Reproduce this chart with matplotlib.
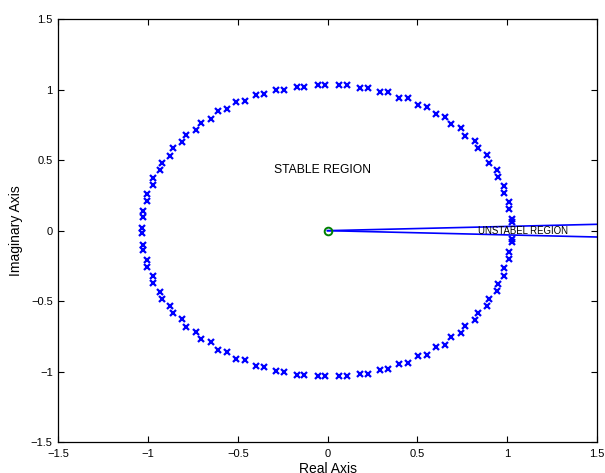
import matplotlib
matplotlib.use("Agg")
import matplotlib.pyplot as plt

# pole locations (upper half, going left from the top, then right side)
upper_re = [-0.012, -0.051, -0.129, -0.172, -0.242, -0.287, -0.352, -0.400, -0.458, -0.508,
            -0.560, -0.608, -0.651, -0.703, -0.735, -0.787, -0.809, -0.861, -0.876, -0.922,
            -0.931, -0.972, -0.974, -1.004, -1.008, -1.026, -1.026, -1.032,
            0.066, 0.107, 0.181, 0.224, 0.294, 0.339, 0.400, 0.450, 0.504, 0.554,
            0.603, 0.653, 0.690, 0.744, 0.768, 0.822, 0.840, 0.889, 0.900, 0.944,
            0.948, 0.982, 0.985, 1.011, 1.013, 1.026, 1.026]
upper_im = [1.032, 1.032, 1.020, 1.020, 0.999, 0.997, 0.966, 0.961, 0.917, 0.909,
            0.860, 0.846, 0.791, 0.765, 0.713, 0.678, 0.628, 0.586, 0.531, 0.482,
            0.428, 0.371, 0.321, 0.260, 0.210, 0.139, 0.094, 0.016,
            1.032, 1.032, 1.013, 1.011, 0.985, 0.983, 0.942, 0.938, 0.891, 0.879,
            0.827, 0.808, 0.756, 0.730, 0.673, 0.635, 0.583, 0.534, 0.482, 0.428,
            0.378, 0.316, 0.269, 0.201, 0.153, 0.083, 0.060]

lower_re = [-1.032, -1.026, -1.026, -1.008, -1.008, -0.974, -0.970, -0.931, -0.922, -0.876,
            -0.861, -0.809, -0.787, -0.735, -0.703, -0.651, -0.608, -0.560, -0.508, -0.458,
            -0.400, -0.352, -0.287, -0.242, -0.168, -0.129, -0.051, -0.012,
            1.026, 1.026, 1.013, 1.013, 0.985, 0.982, 0.948, 0.944, 0.900, 0.889,
            0.840, 0.822, 0.768, 0.744, 0.690, 0.653, 0.603, 0.554, 0.504, 0.450,
            0.400, 0.339, 0.294, 0.224, 0.181, 0.107, 0.066]
lower_im = [-0.016, -0.099, -0.139, -0.210, -0.258, -0.324, -0.373, -0.432, -0.482, -0.534,
            -0.586, -0.628, -0.683, -0.716, -0.768, -0.791, -0.846, -0.860, -0.910, -0.919,
            -0.961, -0.966, -0.997, -1.002, -1.023, -1.025, -1.032, -1.032,
            -0.059, -0.083, -0.154, -0.201, -0.267, -0.319, -0.378, -0.430, -0.482, -0.534,
            -0.584, -0.636, -0.676, -0.728, -0.756, -0.808, -0.827, -0.879, -0.891, -0.936,
            -0.943, -0.980, -0.985, -1.013, -1.013, -1.032, -1.032]

# boundary lines of the unstable wedge
wedge_re = [0.0, 1.5]
wedge_hi = [0.0, 0.045]
wedge_lo = [0.0, -0.045]

plt.rcParams['font.family'] = ['Liberation Sans', 'DejaVu Sans']

fig = plt.figure(figsize=(6.05, 4.73), dpi=100)
ax = fig.add_axes([0.0964, 0.0649, 0.8899, 0.8949])

ax.plot(upper_re, upper_im, 'x', color='blue', ms=4.2, mew=1.6)
ax.plot(lower_re, lower_im, 'x', color='blue', ms=4.2, mew=1.6)
ax.plot(wedge_re, wedge_hi, '-', color='blue', lw=1.2)
ax.plot(wedge_re, wedge_lo, '-', color='blue', lw=1.2)
ax.plot([0], [0], 'o', mfc='none', mec=(0, 0.5, 0), ms=5.5, mew=1.4)

ax.text(-0.3, 0.43, 'STABLE REGION', fontsize=8.7, va='center', ha='left')
ax.text(0.84, 0.0, 'UNSTABEL REGION', fontsize=6.9, va='center', ha='left')

ax.set_xlim(-1.5, 1.5)
ax.set_ylim(-1.5, 1.5)
ax.set_xticks([-1.5, -1, -0.5, 0, 0.5, 1, 1.5])
ax.set_yticks([-1.5, -1, -0.5, 0, 0.5, 1, 1.5])
ax.set_xticklabels(['\u22121.5', '\u22121', '\u22120.5', '0', '0.5', '1', '1.5'])
ax.set_yticklabels(['\u22121.5', '\u22121', '\u22120.5', '0', '0.5', '1', '1.5'])
ax.tick_params(direction='in', length=4, width=0.8, labelsize=8, top=True, right=True)
ax.tick_params(axis='x', pad=5)
ax.tick_params(axis='y', pad=4)
for s in ax.spines.values():
    s.set_linewidth(0.9)

# the reference cuts the x label at the bottom edge too
ax.set_xlabel('Real Axis', fontsize=10, labelpad=2)
ax.set_ylabel('Imaginary Axis', fontsize=10, labelpad=6)

fig.savefig('out.png', dpi=100)
